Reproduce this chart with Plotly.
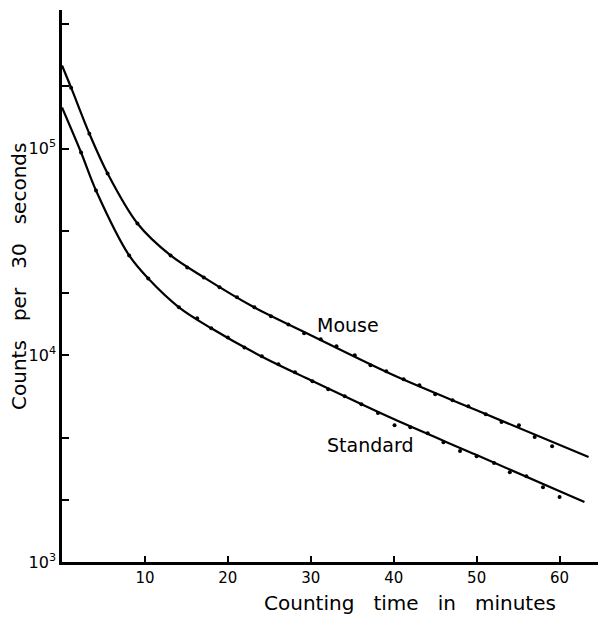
import plotly.graph_objects as go

# Measured points (minutes, counts per 30 s)
mouse_t = [1.1, 3.3, 5.5, 9.1, 13.1, 15.1, 17.1, 19.0, 21.1, 23.2, 25.2, 27.3, 29.2, 31.2,
           33.1, 35.3, 37.2, 39.1, 41.2, 43.1, 45.0, 47.1, 49.0, 51.1, 53.0, 55.1, 57.0, 59.1]
mouse_c = [197000, 118000, 75700, 43400, 30400, 26600, 23800, 21300, 19100, 17060, 15420,
           14100, 12770, 11950, 11050, 10000, 8950, 8370, 7660, 7160, 6480, 6060, 5670, 5190,
           4750, 4590, 4020, 3630]

std_t = [2.3, 4.1, 8.1, 10.4, 14.1, 16.3, 18.0, 20.0, 22.0, 24.1, 26.1, 28.1, 30.2, 32.1,
         34.1, 36.1, 38.1, 40.1, 42.0, 44.1, 46.0, 48.0, 50.0, 52.1, 54.0, 56.0, 58.0, 60.0]
std_c = [95700, 62700, 30400, 23500, 17060, 15100, 13500, 12200, 10900, 9890, 9050, 8280,
         7490, 6850, 6340, 5800, 5250, 4590, 4490, 4200, 3800, 3440, 3250, 3010, 2720, 2600,
         2300, 2060]

# Fitted curves
mouse_curve_t = [0, 1.1, 3.3, 5.5, 9.1, 13.1, 17.1, 23.0, 30, 40, 50, 63.5]
mouse_curve_c = [252000, 197000, 118000, 75700, 43400, 30400, 23800, 17200, 12500, 8000, 5420, 3220]
std_curve_t = [0, 2.3, 4.1, 8.1, 10.4, 14.1, 18.0, 24.0, 30, 40, 50, 63]
std_curve_c = [158000, 95700, 62700, 30400, 23500, 17060, 13500, 9890, 7570, 4910, 3290, 1950]

x_ticks = [10, 20, 30, 40, 50, 60]
y_major = [1000, 10000, 100000]
y_ticktext = ["10<sup>3</sup>", "10<sup>4</sup>", "10<sup>5</sup>"]
y_minor = [2000, 4000, 20000, 40000, 200000, 400000]

FONT = "DejaVu Sans"
W, H = 598, 610          # page has an 8 px body margin
ML, MR, MT, MB = 54, 0, 2, 56
OFF = 8

fig = go.Figure()
for t, c in [(mouse_curve_t, mouse_curve_c), (std_curve_t, std_curve_c)]:
    fig.add_trace(go.Scatter(x=t, y=c, mode="lines", line=dict(color="black", width=2.2,
                             shape="spline", smoothing=0.9), showlegend=False, hoverinfo="skip"))
for t, c in [(mouse_t, mouse_c), (std_t, std_c)]:
    fig.add_trace(go.Scatter(x=t, y=c, mode="markers", marker=dict(color="black", size=4),
                             showlegend=False))

fig.update_layout(
    width=W, height=H,
    margin=dict(l=ML, r=MR, t=MT, b=MB),
    plot_bgcolor="white", paper_bgcolor="white",
    font=dict(family=FONT, color="black", size=15),
    xaxis=dict(range=[0, 65.6], showline=True, linecolor="black", linewidth=2.5,
               ticks="inside", ticklen=6, tickwidth=2, tickcolor="black",
               tickvals=x_ticks, showgrid=False, zeroline=False,
               tickfont=dict(size=15, family=FONT)),
    yaxis=dict(type="log", range=[3, 5.67], showline=True, linecolor="black", linewidth=2.5,
               ticks="inside", ticklen=7, tickwidth=2, tickcolor="black",
               tickvals=y_major, ticktext=y_ticktext, showgrid=False, zeroline=False,
               minor=dict(tickvals=y_minor, ticks="inside", ticklen=7, tickwidth=2,
                          tickcolor="black", showgrid=False),
               tickfont=dict(size=16, family=FONT)),
)

pw = W - ML - MR
ph = H - MT - MB
left = OFF + ML
bottom = OFF + H - MB

def px(x, y):
    return (x - left) / pw, (bottom - y) / ph

SP = "\u00a0\u00a0\u00a0"
anns = [
    ("Mouse", 348, 325, 19, 0),
    ("Standard", 370, 445, 19, 0),
    (SP.join(["Counting", "time", "in", "minutes"]), 410, 603, 20, 0),
    (SP.join(["Counts", "per", "30", "seconds"]), 19, 277, 20, -90),
]
for text, x, y, size, ang in anns:
    xp, yp = px(x, y)
    fig.add_annotation(text=text, x=xp, y=yp, xref="paper", yref="paper", showarrow=False,
                       xanchor="center", yanchor="middle", textangle=ang,
                       font=dict(size=size, family=FONT, color="black"))

fig.write_html("out.html")
